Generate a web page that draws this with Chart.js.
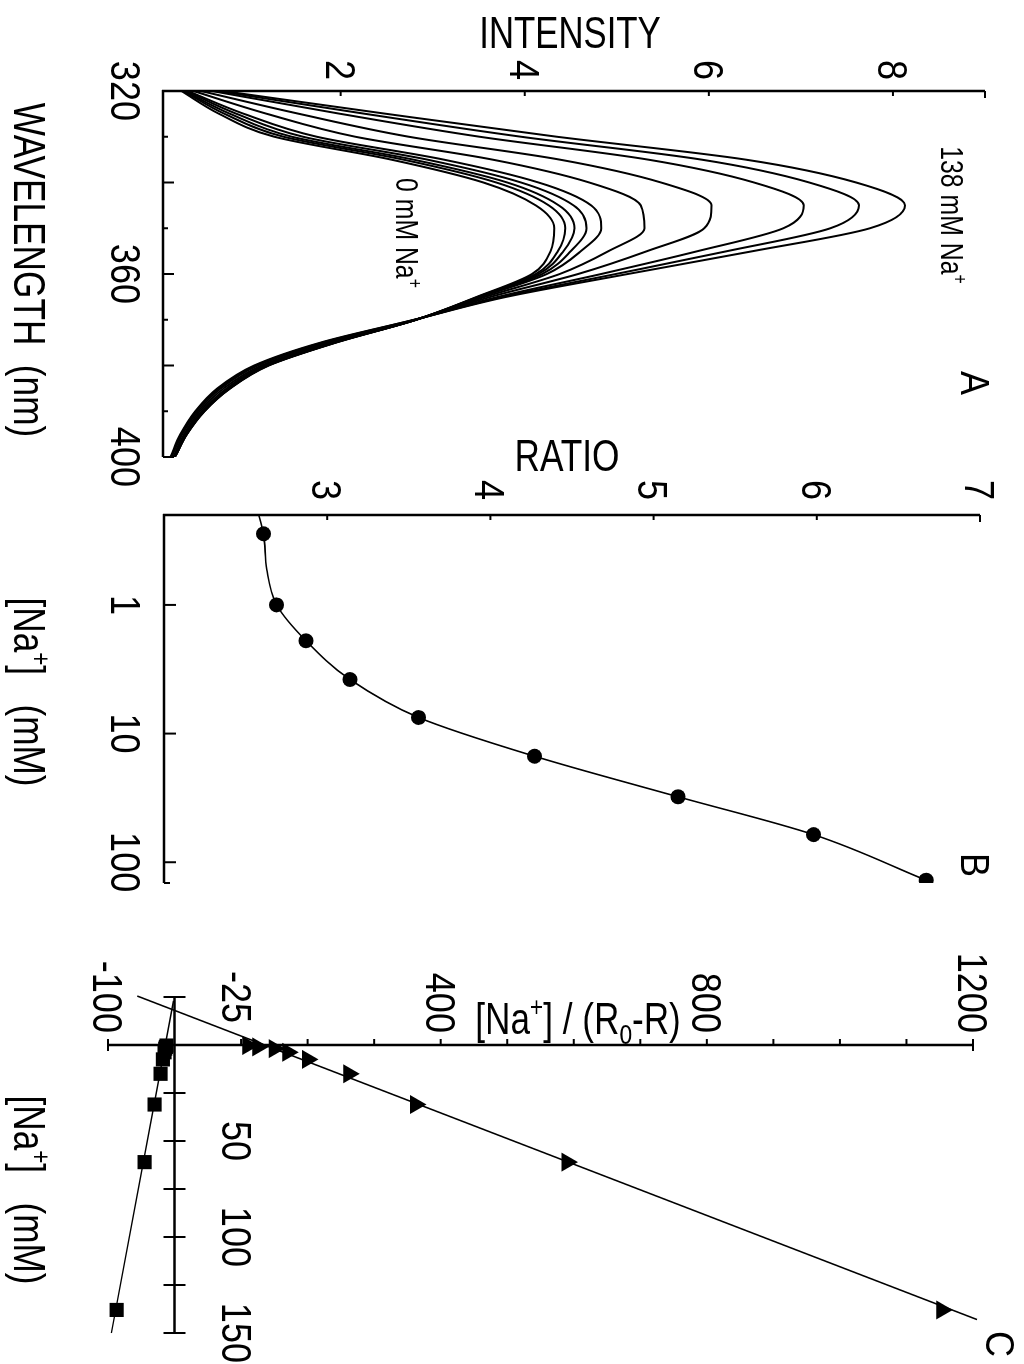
<!DOCTYPE html>
<html>
<head>
<meta charset="utf-8">
<title>Na+ indicator spectra</title>
<script src="https://cdn.jsdelivr.net/npm/chart.js@4.4.1/dist/chart.umd.min.js"></script>
<style>
  html, body { margin: 0; padding: 0; background: #fff; overflow: hidden; }
  /* the figure is laid out landscape and turned a quarter turn onto the page */
  #sheet {
    position: absolute; left: 0; top: 0;
    width: 1364px; height: 1024px;
    transform-origin: 0 0;
    transform: translate(1024px, 0) rotate(90deg);
    background: #fff;
  }
  #sheet canvas { position: absolute; left: 0; top: 0; width: 1364px; height: 1024px; }
</style>
</head>
<body>
<div id="sheet">
  <canvas id="panel-a" width="1364" height="1024"></canvas>
  <canvas id="panel-b" width="1364" height="1024"></canvas>
  <canvas id="panel-c" width="1364" height="1024"></canvas>
</div>
<script>
const INK = '#000';
const FONT = "'Liberation Sans', Arial, sans-serif";

// --- A: emission spectra, one curve per [Na+] (mM) ---
const wavelengths = [320, 325, 330, 335, 340, 345, 350, 355, 360, 365, 370, 375, 380, 385, 390, 395, 400];
const naLevels = [0, 0.28, 1, 1.9, 3.8, 7.5, 15, 31, 61, 138];
const spec0   = [0.27, 0.68, 1.28, 2.55, 3.55, 4.12, 4.32, 4.28, 4.08, 3.48, 2.82, 1.95, 1.22, 0.80, 0.52, 0.33, 0.20];
const spec028 = [0.29, 0.74, 1.38, 2.68, 3.69, 4.26, 4.44, 4.36, 4.12, 3.49, 2.82, 1.94, 1.21, 0.80, 0.52, 0.33, 0.20];
const spec1   = [0.30, 0.80, 1.47, 2.79, 3.81, 4.37, 4.54, 4.42, 4.15, 3.50, 2.82, 1.94, 1.21, 0.79, 0.51, 0.33, 0.20];
const spec19  = [0.32, 0.87, 1.59, 2.94, 3.96, 4.53, 4.67, 4.50, 4.19, 3.51, 2.82, 1.93, 1.20, 0.79, 0.51, 0.32, 0.19];
const spec38  = [0.34, 0.95, 1.74, 3.12, 4.15, 4.72, 4.83, 4.61, 4.24, 3.53, 2.82, 1.92, 1.20, 0.78, 0.50, 0.32, 0.19];
const spec75  = [0.40, 1.20, 2.16, 3.65, 4.70, 5.26, 5.30, 4.91, 4.38, 3.57, 2.81, 1.90, 1.17, 0.76, 0.49, 0.31, 0.19];
const spec15  = [0.48, 1.55, 2.74, 4.38, 5.48, 6.03, 5.95, 5.33, 4.58, 3.63, 2.81, 1.87, 1.14, 0.73, 0.47, 0.30, 0.18];
const spec31  = [0.60, 2.00, 3.51, 5.34, 6.49, 7.03, 6.81, 5.88, 4.83, 3.71, 2.81, 1.83, 1.10, 0.70, 0.45, 0.28, 0.16];
const spec61  = [0.66, 2.27, 3.96, 5.92, 7.09, 7.63, 7.32, 6.20, 4.99, 3.76, 2.80, 1.80, 1.08, 0.68, 0.43, 0.27, 0.16];
const spec138 = [0.72, 2.50, 4.35, 6.40, 7.60, 8.13, 7.75, 6.48, 5.12, 3.80, 2.80, 1.78, 1.06, 0.66, 0.42, 0.26, 0.15];
const spectra = [spec0, spec028, spec1, spec19, spec38, spec75, spec15, spec31, spec61, spec138];
const wavelengthLabels = [320, 360, 400];
const intensityLabels = [2, 4, 6, 8];

// --- B: excitation ratio against [Na+] ---
const naB = [0.28, 1, 1.9, 3.8, 7.5, 15, 31, 61, 138];
const ratioB = [2.61, 2.69, 2.87, 3.14, 3.56, 4.27, 5.15, 5.98, 6.67];
const fitNaB = [0.2, 0.28, 0.53, 1, 1.9, 3.8, 7.5, 15, 31, 61, 138];
const fitRatioB = [2.58, 2.61, 2.63, 2.69, 2.87, 3.14, 3.56, 4.27, 5.15, 5.98, 6.67];
const naLogLabels = [1, 10, 100];
const ratioLabels = [3, 4, 5, 6, 7];

// --- C: linearised plots ---
const naC = [0.28, 1, 1.9, 3.8, 7.5, 15, 31, 61, 138];
const hanesC = [110, 125, 150, 170, 200, 262, 362, 590, 1153];
const squaresC = [-12, -13, -14, -15, -17.5, -21, -30, -45, -87];
const hanesFitNa = [-25.5, 143];
const hanesFitY = [-56, 1206];
const squaresFitNa = [-23, 150];
const squaresFitY = [-1.5, -95];
const naLinLabels = [-25, 50, 100, 150];
const hanesLabels = [-100, 400, 800, 1200];

const pairs = (xs, ys) => xs.map((v, i) => ({ x: v, y: ys[i] }));

function seg(ctx, x1, y1, x2, y2) {
  ctx.beginPath();
  ctx.moveTo(x1, y1);
  ctx.lineTo(x2, y2);
  ctx.stroke();
}

// text with optional super/subscript pieces, centred on the cap height at (cx, cy);
// squeeze narrows the glyphs to a condensed face
function drawLabel(ctx, parts, cx, cy, size, opts = {}) {
  const { align = 'center', angle = 0, squeeze = 0.8 } = opts;
  ctx.save();
  ctx.translate(cx, cy);
  ctx.rotate(angle);
  ctx.scale(squeeze, 1);
  ctx.fillStyle = INK;
  ctx.textBaseline = 'alphabetic';
  const pieces = parts.map(p => typeof p === 'string' ? { t: p, k: '' } : { ...p });
  let total = 0;
  pieces.forEach(p => {
    p.s = p.k ? size * 0.64 : size;
    ctx.font = `${p.s}px ${FONT}`;
    p.w = ctx.measureText(p.t).width;
    total += p.w;
  });
  let x = align === 'center' ? -total / 2 : align === 'right' ? -total : 0;
  const base = size * 0.36;
  pieces.forEach(p => {
    ctx.font = `${p.s}px ${FONT}`;
    const dy = p.k === 'sup' ? -size * 0.4 : p.k === 'sub' ? size * 0.22 : 0;
    ctx.fillText(p.t, x, base + dy);
    x += p.w;
  });
  ctx.restore();
}

const TICK_FONT = 42;
const TICK_SQUEEZE = 0.86;
const TITLE_FONT = 44;

function tickLabel(ctx, v, x, y, align = 'center') {
  drawLabel(ctx, [String(v)], x, y, TICK_FONT, { align, squeeze: TICK_SQUEEZE });
}

function drawAxesA(chart) {
  const { ctx, scales: { x, y } } = chart;
  const left = x.getPixelForValue(320), right = x.getPixelForValue(400);
  const bottom = y.getPixelForValue(y.min), top = y.getPixelForValue(9);
  ctx.save();
  ctx.strokeStyle = INK;
  ctx.lineWidth = 2.5;
  seg(ctx, left, bottom + 1, left, top);
  seg(ctx, left - 1, bottom, right, bottom);
  ctx.lineWidth = 2;
  for (let w = 330; w <= 400; w += 10) {
    const px = x.getPixelForValue(w);
    seg(ctx, px, bottom, px, bottom - (w % 20 === 0 ? 11 : 5));
  }
  intensityLabels.forEach(v => {
    const py = y.getPixelForValue(v);
    seg(ctx, left, py, left + 5, py);
  });
  seg(ctx, left, top, left + 7, top);
  wavelengthLabels.forEach(w => tickLabel(ctx, w, x.getPixelForValue(w), bottom + 37));
  intensityLabels.forEach(v => tickLabel(ctx, v, left - 21, y.getPixelForValue(v)));
  drawLabel(ctx, ['INTENSITY'], 32, 454, TITLE_FONT, { angle: -Math.PI / 2, squeeze: 0.79 });
  drawLabel(ctx, ['WAVELENGTH  (nm)'], 270, 994, TITLE_FONT);
  drawLabel(ctx, ['0 mM Na', { t: '+', k: 'sup' }], 233, 617, 31);
  drawLabel(ctx, ['138 mM Na', { t: '+', k: 'sup' }], 215, 72, 31);
  drawLabel(ctx, ['A'], 383, 49, 40, { squeeze: 0.9 });
  ctx.restore();
}

function drawAxesB(chart) {
  const { ctx, scales: { x, y } } = chart;
  const left = x.getPixelForValue(x.min), right = x.getPixelForValue(x.max);
  const bottom = y.getPixelForValue(2), top = y.getPixelForValue(7);
  ctx.save();
  ctx.strokeStyle = INK;
  ctx.lineWidth = 2.5;
  seg(ctx, left, bottom + 1, left, top);
  seg(ctx, left - 1, bottom, right, bottom);
  ctx.lineWidth = 2;
  ratioLabels.forEach(v => {
    const py = y.getPixelForValue(v);
    seg(ctx, left, py, left + (v === 7 ? 7 : 5), py);
  });
  naLogLabels.forEach(v => {
    const px = x.getPixelForValue(v);
    seg(ctx, px, bottom, px, bottom - 12);
  });
  seg(ctx, right, bottom, right, bottom - 6);
  naLogLabels.forEach(v => tickLabel(ctx, v, x.getPixelForValue(v), bottom + 38));
  ratioLabels.forEach(v => tickLabel(ctx, v, left - 25, y.getPixelForValue(v)));
  drawLabel(ctx, ['RATIO'], 455, 457, TITLE_FONT, { angle: -Math.PI / 2 });
  drawLabel(ctx, ['[Na', { t: '+', k: 'sup' }, ']   (mM)'], 692, 994, TITLE_FONT);
  drawLabel(ctx, ['B'], 865, 49, 40, { squeeze: 0.9 });
  ctx.restore();
}

function drawAxesC(chart) {
  const { ctx, scales: { x, y } } = chart;
  const ox = x.getPixelForValue(0), oy = y.getPixelForValue(0);
  const xa = x.getPixelForValue(-25), xb = x.getPixelForValue(150);
  const ya = y.getPixelForValue(-100), yb = y.getPixelForValue(1200);
  ctx.save();
  ctx.strokeStyle = INK;
  ctx.lineWidth = 2.5;
  seg(ctx, xa, oy, xb, oy);
  seg(ctx, ox, ya, ox, yb);
  ctx.lineWidth = 2;
  for (let v = -25; v <= 150; v += 25) {
    if (v === 0) continue;
    const px = x.getPixelForValue(v);
    seg(ctx, px, oy - 11, px, oy + 11);
  }
  for (let v = -100; v <= 1200; v += 100) {
    if (v === 0) continue;
    const py = y.getPixelForValue(v);
    const both = v === -100 || v === 1200;
    seg(ctx, ox - 6, py, both ? ox + 6 : ox, py);
  }
  naLinLabels.forEach(v => tickLabel(ctx, v, x.getPixelForValue(v), oy - 63));
  hanesLabels.forEach(v => tickLabel(ctx, v, ox - 12, y.getPixelForValue(v), 'right'));
  drawLabel(ctx, ['[Na', { t: '+', k: 'sup' }, '] / (R', { t: '0', k: 'sub' }, '-R)'], 1018, 446, TITLE_FONT, { angle: -Math.PI / 2 });
  drawLabel(ctx, ['[Na', { t: '+', k: 'sup' }, ']   (mM)'], 1190, 994, TITLE_FONT);
  drawLabel(ctx, ['C'], 1344, 24, 40, { squeeze: 0.9 });
  ctx.restore();
}

const axesPlugin = draw => ({ id: 'frame', afterDatasetsDraw: chart => draw(chart) });

const common = {
  responsive: false,
  animation: false,
  devicePixelRatio: 1,
  plugins: { legend: { display: false }, tooltip: { enabled: false } },
  elements: { line: { borderColor: INK, fill: false } }
};

// panel A
new Chart(document.getElementById('panel-a'), {
  type: 'line',
  data: {
    datasets: spectra.map((s, i) => ({
      label: naLevels[i] + ' mM',
      data: pairs(wavelengths, s),
      borderColor: INK,
      borderWidth: 2,
      pointRadius: 0,
      cubicInterpolationMode: 'monotone'
    }))
  },
  options: {
    ...common,
    layout: { padding: { left: 91, right: 1364 - 457, top: 39, bottom: 1024 - 861 } },
    scales: {
      x: { type: 'linear', min: 320, max: 400, display: false },
      y: { type: 'linear', min: 0.07, max: 9, display: false }
    }
  },
  plugins: [axesPlugin(drawAxesA)]
});

// panel B
new Chart(document.getElementById('panel-b'), {
  type: 'line',
  data: {
    datasets: [
      {
        label: 'fit',
        data: pairs(fitNaB, fitRatioB),
        borderColor: INK,
        borderWidth: 1.6,
        pointRadius: 0,
        cubicInterpolationMode: 'monotone'
      },
      {
        label: 'ratio',
        data: pairs(naB, ratioB),
        showLine: false,
        pointStyle: 'circle',
        pointRadius: 7.5,
        pointBackgroundColor: INK,
        pointBorderColor: INK,
        pointBorderWidth: 0
      }
    ]
  },
  options: {
    ...common,
    layout: { padding: { left: 515, right: 1364 - 883, top: 44, bottom: 1024 - 860 } },
    scales: {
      x: { type: 'logarithmic', min: 0.2, max: 145, display: false },
      y: { type: 'linear', min: 2, max: 7, display: false }
    }
  },
  plugins: [axesPlugin(drawAxesB)]
});

// panel C
new Chart(document.getElementById('panel-c'), {
  type: 'line',
  data: {
    datasets: [
      {
        label: 'triangle fit',
        data: pairs(hanesFitNa, hanesFitY),
        borderColor: INK,
        borderWidth: 1.6,
        pointRadius: 0,
        clip: false
      },
      {
        label: 'square fit',
        data: pairs(squaresFitNa, squaresFitY),
        borderColor: INK,
        borderWidth: 1.4,
        pointRadius: 0,
        clip: false
      },
      {
        label: 'triangles',
        data: pairs(naC, hanesC),
        showLine: false,
        pointStyle: 'triangle',
        pointRadius: 11,
        pointBackgroundColor: INK,
        pointBorderColor: INK,
        pointBorderWidth: 0,
        clip: false
      },
      {
        label: 'squares',
        data: pairs(naC, squaresC),
        showLine: false,
        pointStyle: 'rect',
        pointRadius: 10,
        pointBackgroundColor: INK,
        pointBorderColor: INK,
        pointBorderWidth: 0,
        clip: false
      }
    ]
  },
  options: {
    ...common,
    layout: { padding: { left: 997, right: 1364 - 1333, top: 51, bottom: 1024 - 916 } },
    scales: {
      x: { type: 'linear', min: -25, max: 150, display: false },
      y: { type: 'linear', min: -100, max: 1200, display: false }
    }
  },
  plugins: [axesPlugin(drawAxesC)]
});
</script>
</body>
</html>
